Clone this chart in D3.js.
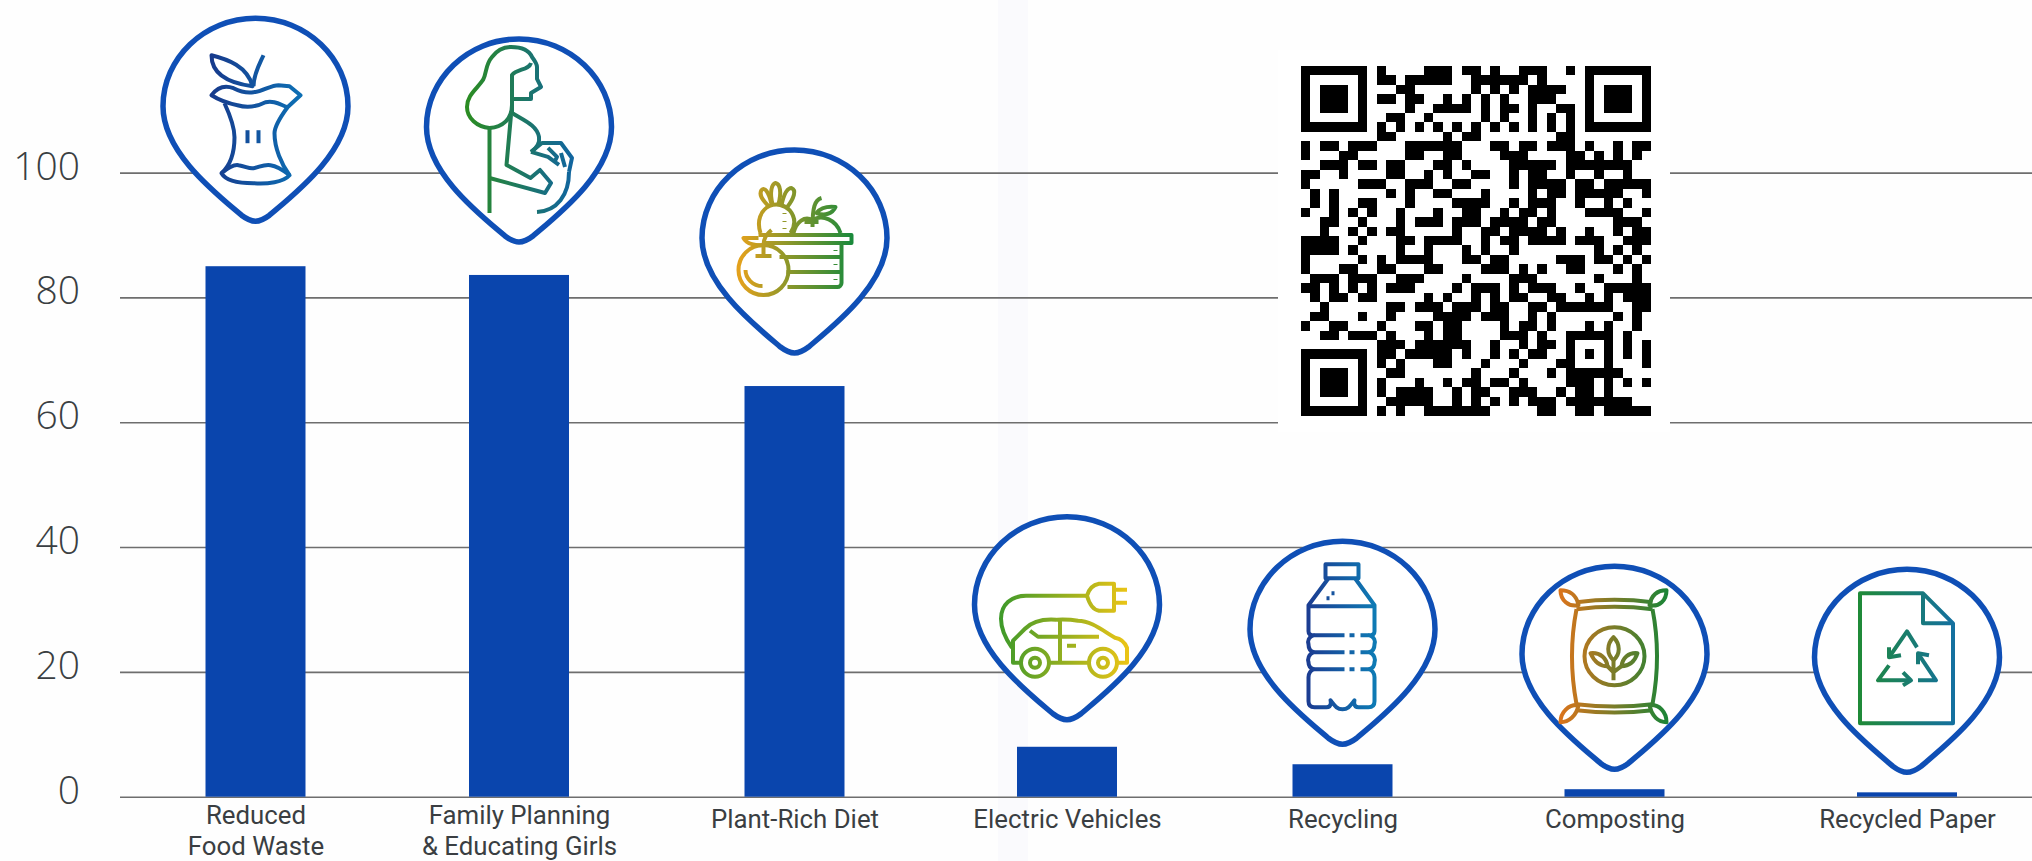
<!DOCTYPE html>
<html>
<head>
<meta charset="utf-8">
<style>
  html, body { margin: 0; padding: 0; background: #fefefe; overflow: hidden; }
  svg { display: block; }
  text { font-family: Roboto, sans-serif; fill: #3a3e42; }
</style>
</head>
<body>
<svg id="chart" width="2032" height="861"></svg>
<script src="https://cdn.jsdelivr.net/npm/d3@7/dist/d3.min.js"></script>
<script>
// chart values
const categories = ['Reduced Food Waste', 'Family Planning & Educating Girls', 'Plant-Rich Diet', 'Electric Vehicles', 'Recycling', 'Composting', 'Recycled Paper'];
const categoryLines = [['Reduced', 'Food Waste'], ['Family Planning', '& Educating Girls'], ['Plant-Rich Diet'], ['Electric Vehicles'], ['Recycling'], ['Composting'], ['Recycled Paper']];
const values = [85, 83.6, 65.8, 8, 5.2, 1.2, 0.7];
const yTicks = [0, 20, 40, 60, 80, 100];

// black modules of the QR code per row, finder squares are drawn apart
const qrRows = [
  '8 13-15 17-18 20 23-25 28',
  '8-9 11-15 18-23 25',
  '10-11 18 20 22 24-27',
  '8-9 11-12 15 17 19 21 24-26',
  '11 14-17 19 21-22 24 27-28',
  '9-10 13 19 21 24 26 28',
  '8 10 12 14 16 18 20 22 24 26 28',
  '8-9 15 17-18 27-28',
  '0 2-3 5-7 11-16 20-21 23-24 26-28 30 33 35-36',
  '0 4-5 11-12 15-16 21-23 28-29 31 33 35',
  '2-4 6-7 9-10 14-15 17 22-26 28-34',
  '0-1 4 9-10 13 15 18-19 22 24-25 28 31 34',
  '0 6-8 11-13 16-17 22 24-27 29-30 32-36',
  '1 3 9 11 14-15 19 24 26-27 29-33 36',
  '1 3 6-7 11 16-19 22 24-26 29 32 34',
  '0 3 5 7 10 14 17-18 21 23-24 26 30-33 36',
  '2-3 6 10 12-14 16-18 20-23 25-26 33-35',
  '2 5 7 9-10 16 19-20 22-25 27 30 33 35-36',
  '0-3 6 10-11 13-16 19 21-22 24-27 29-31 34-36',
  '0-3 5 10 13 17 19 22 31 33 35',
  '0 6 8 10-13 17-18 20-21 27-29 31-32 34 36',
  '0 4-5 8-9 13-14 19-21 23 25 28-29 33 35',
  '1-3 5-7 10-12 17 22-24 31 35',
  '0-1 3 5 7 9-11 16 18-20 22 24-26 29 32-36',
  '1 3-4 6-7 13 15 18 20 22-23 26-27 30 32 34-36',
  '2 9-10 12-14 16-18 20-21 24-25 27-32 35-36',
  '1-2 6 9 14-17 19-21 24 26 33 35',
  '0 3-4 8 12-13 15-16 21 23-24 26 30 32 35',
  '2-3 5-7 9 13 15-16 21-23 25 28-32 34',
  '8-10 12-17 20 23 25-26 28 32 34 36',
  '8-9 11-15 17 20 22 24-25 28 30 32 34 36',
  '8 10 14-15 19 23 27-28 32 36',
  '9-10 18 22 26 28-33',
  '8 12 15 17-18 20-21 23 28-30 32 34 36',
  '8 10-13 16 18-19 22-24 27 29-30 32',
  '9-13 16 18 20 22 24-26 28-34',
  '8 10 13-19 25-26 29-30 32-36'
];
const qrFinders = [[0, 0], [30, 0], [0, 30]];

// icons inside the pins, local coordinates with the pin tip at 0,0
const iconColors = [
  ['#173a8c', '#0d6fb4'], ['#2b8c22', '#11659f'], ['#e3a11c', '#1b8a3c'], ['#3f9a2a', '#eac416'],
  ['#1b3d92', '#0e7ab4'], ['#da741b', '#1c8436'], ['#1f8a38', '#14709f']
];
const iconSpans = [[-45, 45], [-52, 53], [-55, 57], [-66, 60], [-34, 32], [-54, 52], [-47, 46]];
const iconPaths = [
  [
    'M-44,-169C-28,-165 -8,-158 -3,-138C-18,-140 -44,-146 -44,-169Z',
    'M8,-169C4,-160 -2,-150 -2,-138',
    'M-44,-129C-38,-137 -30,-139 -22,-136C-14,-132 -8,-131 -2,-132C8,-133 15,-139 23,-139L34,-138L45,-129L32,-117C24,-120 18,-124 10,-122C2,-118 -8,-116 -18,-119C-28,-121 -36,-124 -44,-129Z',
    'M-31,-121C-25,-108 -21,-98 -21,-87C-21,-72 -24,-60 -34,-51',
    'M32,-117C24,-106 19,-98 19,-91C19,-76 26,-60 34,-49',
    'M-34,-51C-28,-56 -22,-60 -17,-59C-10,-58 -6,-55 -2,-56C4,-57 8,-60 15,-59C23,-58 29,-53 34,-49C28,-42 12,-40 -2,-41C-18,-41 -30,-44 -34,-51Z',
    'M-8,-94V-81',
    'M3,-94V-81'
  ],
  [
    'M-29.5,-32V-117C-42,-118 -52,-127 -52,-138C-52,-150 -42,-156 -36,-165C-32,-172 -34,-180 -27,-188C-21,-196 -14,-198 -8,-198C2,-198 10,-195 13,-188C16,-184 18,-180 18,-178V-166L22,-158L12,-152V-146H-6',
    'M12,-182C10,-175 -2,-176 -7,-170V-130',
    'M-29.5,-117C-16,-118 -7,-126 -7,-140',
    'M-7,-132C4,-125 18,-120 20,-108C21,-102 18,-97 12,-93',
    'M-8,-130L-12.5,-80L11.5,-67L21,-75L32,-62L26,-52L-29.5,-67',
    'M12,-93L23,-102H42L53,-87L50,-73',
    'M12,-93L29,-88L40,-80M29,-97L38,-88L35,-82M42,-92L46,-78',
    'M50,-73C50,-50 38,-34 18,-33'
  ],
  [
    'M-6,-86A25,25 0 1 1 -56,-86A25,25 0 1 1 -6,-86Z',
    'M-49,-86C-49,-78 -42,-70 -32,-70',
    'M-31,-111V-100M-39,-100C-33,-100 -28,-100 -23,-100',
    'M-23,-126C-28,-122 -31,-118 -31,-111C-38,-110 -48,-112 -51,-118H-36',
    'M-36,-121H57V-113H-31',
    'M47,-113V-73C47,-71 45,-69 43,-69H-7',
    'M-15,-99H47M-8,-84H47',
    'M41,-106V-105M41,-92V-91M41,-77V-76',
    'M-34,-123C-38,-135 -34,-146 -25,-150C-18,-153 -10,-151 -5,-146C0,-140 2,-132 -4,-123',
    'M-26,-150C-32,-156 -36,-161 -33,-166C-30,-169 -26,-165 -23,-152',
    'M-22,-152C-25,-163 -23,-172 -19,-173C-14,-172 -13,-163 -16,-152',
    'M-13,-151C-11,-160 -8,-168 -3,-168C2,-166 0,-158 -8,-148',
    'M-10,-143V-142M-10,-135V-134M-10,-128V-127',
    'M-1,-123C2,-135 10,-140 18,-136C28,-142 42,-136 46,-123',
    'M27,-158C20,-156 18,-148 18,-129M10,-134H24',
    'M22,-143C26,-148 32,-150 41,-149C38,-142 30,-140 22,-143Z'
  ],
  [
    'M20,-127C22,-134 26,-138 32,-139H47V-112H32C26,-113 22,-120 20,-127Z',
    'M47,-133H60M47,-120H60',
    'M20,-127H-41C-56,-127 -66,-118 -66,-104C-66,-92 -60,-82 -55,-75',
    'M-18,-60H22',
    'M50,-60H60V-75C58,-80 54,-84 48,-85C36,-92 24,-102 11,-102C0,-104 -12,-103 -11,-103C-25,-104 -36,-100 -42,-94L-54,-82V-60H-46',
    'M-37,-92L-29,-86H32',
    'M-7,-102V-60',
    'M0,-77H9',
    'M-18,-60A14,14 0 1 1 -46,-60A14,14 0 1 1 -18,-60Z',
    'M-27,-60A5,5 0 1 1 -37,-60A5,5 0 1 1 -27,-60Z',
    'M50,-60A14,14 0 1 1 22,-60A14,14 0 1 1 50,-60Z',
    'M41,-60A5,5 0 1 1 31,-60A5,5 0 1 1 41,-60Z'
  ],
  [
    'M-17,-183H16V-169H-17Z',
    'M-14,-169L-34,-142V-116C-34,-113 -32,-112 -29,-112C-34,-110 -35,-106 -34,-103C-34,-98 -32,-96 -29,-95C-34,-93 -35,-88 -34,-85C-34,-81 -32,-79 -29,-78C-33,-76 -34,-74 -34,-70V-46C-34,-42 -32,-40 -28,-40H-16C-10,-40 -12,-47 -12,-47C-8,-42 -6,-38 0,-38C6,-38 8,-42 12,-47C12,-47 10,-40 16,-40H26C30,-40 32,-42 32,-46V-70C32,-74 31,-76 27,-78C30,-79 32,-81 32,-85C33,-88 32,-93 27,-95C30,-96 32,-98 32,-103C33,-106 32,-110 27,-112C30,-112 32,-113 32,-116V-142L12.5,-169',
    'M-34,-141H32',
    'M-29,-112H2M7,-112H12M18,-112H27',
    'M-29,-95H2M7,-95H12M18,-95H27',
    'M-29,-78H2M7,-78H12M18,-78H27',
    'M-11,-154H-8M-16,-149H-13'
  ],
  [
    'M-38,-170C-14,-173 14,-173 38,-170',
    'M-38,-163C-14,-166 14,-166 38,-163',
    'M-38,-68C-14,-65 14,-65 38,-68',
    'M-38,-62C-14,-59 14,-59 38,-62',
    'M-38,-163C-44,-132 -44,-100 -38,-68',
    'M38,-163C44,-132 44,-100 38,-68',
    'M-36,-167C-38,-178 -46,-182 -54,-182C-54,-172 -46,-165 -36,-167Z',
    'M35,-167C37,-178 44,-182 52,-182C52,-172 45,-165 35,-167Z',
    'M-36,-67C-38,-56 -46,-50 -54,-50C-54,-60 -46,-68 -36,-67Z',
    'M35,-67C37,-56 44,-50 52,-50C52,-60 45,-68 35,-67Z',
    'M30,-116A30,29 0 1 1 -30,-116A30,29 0 1 1 30,-116Z',
    'M-1,-135C-8,-128 -8,-118 -1,-112C6,-118 6,-128 -1,-135Z',
    'M-24,-119C-20,-110 -14,-106 -7,-106C-8,-114 -14,-120 -24,-119Z',
    'M23,-119C20,-110 14,-106 7,-106C8,-114 14,-120 23,-119Z',
    'M-1,-112V-92M-7,-106L-1,-100M7,-106L-1,-100'
  ],
  [
    'M16,-182H-47V-52H46V-152Z',
    'M16,-182V-152H46',
    'M-18,-118L0,-144L10,-128',
    'M-18,-128V-118L-6,-120',
    'M11,-122L29,-95H11',
    'M22,-120L11,-122V-111',
    'M-18,-110L-29,-95H4',
    'M-4,-103L4,-95L-4,-90'
  ]
];

// layout, measured
const barCenters = [255.5, 519, 794.5, 1067, 1342.5, 1614.5, 1907];
const barWidth = 100;
const pinLift = [42, 30, 30, 24, 17, 17, 17];
const pinShape = 'M0,-3C-5,-3 -10,-6 -14,-9C-40,-31 -92.5,-72 -92.5,-118C-92.5,-166 -51,-206 0,-206C51,-206 92.5,-166 92.5,-118C92.5,-72 40,-31 14,-9C10,-6 5,-3 0,-3Z';

const svg = d3.select('#chart');
const x = d3.scaleOrdinal().domain(categories).range(barCenters);
const y = d3.scaleLinear().domain([0, 100]).range([796.7, 172.6]);

// scan fold
svg.append('rect').attr('x', 998).attr('y', 0).attr('width', 30).attr('height', 861).attr('fill', '#fafafd');

// value axis with the gridlines
const yAxis = svg.append('g')
  .attr('transform', 'translate(120,0)')
  .call(d3.axisLeft(y).tickValues(yTicks).tickSize(-1912).tickPadding(40).tickFormat(d3.format('d')));
yAxis.select('.domain').remove();
yAxis.selectAll('line').attr('stroke', '#6e6e6e').attr('stroke-width', 1.6);
yAxis.selectAll('text').attr('y', -6).attr('font-size', 39).style('font-family', 'Open Sans').style('font-weight', 300).attr('fill', '#33373b');

// category axis, labels wrap by hand
const xAxis = svg.append('g')
  .attr('transform', 'translate(0,' + y(0) + ')')
  .call(d3.axisBottom(x).tickSize(0).tickPadding(0));
xAxis.select('.domain').remove();
xAxis.selectAll('text').each(function (d, i) {
  const t = d3.select(this).text(null).attr('y', 0).attr('dy', null)
    .style('font-family', 'Roboto').attr('font-size', 25.8).attr('fill', '#3a3e42');
  const first = categoryLines[i].length > 1 ? 27 : 31;
  categoryLines[i].forEach(function (line, k) {
    t.append('tspan').attr('x', 0).attr('y', first + k * 31).text(line);
  });
});

// QR code sits on a white box that cuts the gridlines
svg.append('rect').attr('x', 1278).attr('y', 50).attr('width', 392).attr('height', 382).attr('fill', '#ffffff');
const qrX = d3.scaleLinear().domain([0, 37]).range([1301, 1651]);
const qrY = d3.scaleLinear().domain([0, 37]).range([65.7, 415.7]);
const qrRuns = [];
qrRows.forEach(function (row, r) {
  row.split(' ').forEach(function (run) {
    const p = run.split('-').map(Number);
    qrRuns.push({ r: r, c: p[0], n: (p[1] === undefined ? p[0] : p[1]) - p[0] + 1 });
  });
});
const qr = svg.append('g').attr('shape-rendering', 'crispEdges');
qr.selectAll('rect.run').data(qrRuns).join('rect').attr('class', 'run')
  .attr('x', function (d) { return qrX(d.c); })
  .attr('y', function (d) { return qrY(d.r); })
  .attr('width', function (d) { return qrX(d.c + d.n) - qrX(d.c); })
  .attr('height', function (d) { return qrY(d.r + 1) - qrY(d.r); })
  .attr('fill', '#000');
qrFinders.forEach(function (f) {
  [[0, 7, '#000'], [1, 5, '#fff'], [2, 3, '#000']].forEach(function (s) {
    qr.append('rect')
      .attr('x', qrX(f[0] + s[0])).attr('y', qrY(f[1] + s[0]))
      .attr('width', qrX(s[1]) - qrX(0)).attr('height', qrY(s[1]) - qrY(0))
      .attr('fill', s[2]);
  });
});

// bars
svg.selectAll('rect.bar').data(categories).join('rect').attr('class', 'bar')
  .attr('x', function (d) { return x(d) - barWidth / 2; })
  .attr('y', function (d, i) { return y(values[i]); })
  .attr('width', barWidth)
  .attr('height', function (d, i) { return y(0) - y(values[i]); })
  .attr('fill', '#0a45ad');

// pins with the gradient icons
const defs = svg.append('defs');
iconColors.forEach(function (c, i) {
  const g = defs.append('linearGradient').attr('id', 'icon' + i)
    .attr('gradientUnits', 'userSpaceOnUse')
    .attr('x1', iconSpans[i][0]).attr('x2', iconSpans[i][1]).attr('y1', 0).attr('y2', 0);
  g.append('stop').attr('offset', 0).attr('stop-color', c[0]);
  g.append('stop').attr('offset', 1).attr('stop-color', c[1]);
});
const pins = svg.selectAll('g.pin').data(categories).join('g').attr('class', 'pin')
  .attr('transform', function (d, i) { return 'translate(' + x(d) + ',' + (y(values[i]) - pinLift[i]) + ')'; });
pins.append('path').attr('d', pinShape).attr('fill', '#fff').attr('stroke', '#0f4fb6').attr('stroke-width', 5.5);
pins.each(function (d, i) {
  d3.select(this).selectAll('path.icon').data(iconPaths[i]).join('path').attr('class', 'icon')
    .attr('d', function (p) { return p; })
    .attr('fill', 'none')
    .attr('stroke', 'url(#icon' + i + ')')
    .attr('stroke-width', 4)
    .attr('stroke-linejoin', 'round')
    .attr('stroke-linecap', 'butt');
});
</script>
</body>
</html>
